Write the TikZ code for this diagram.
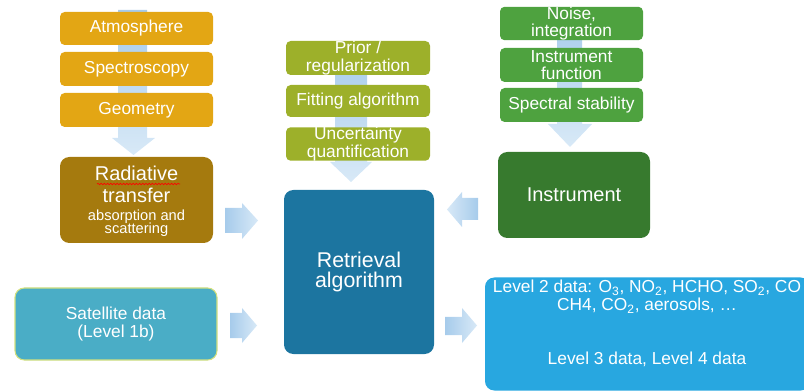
\documentclass[tikz,border=0pt]{standalone}
\usepackage{fontspec}
\setmainfont{Liberation Sans}
\usetikzlibrary{decorations.pathmorphing}
\definecolor{orangebox}{HTML}{E3A614}
\definecolor{radbox}{HTML}{A57A0E}
\definecolor{olivebox}{HTML}{9DB02A}
\definecolor{greenbox}{HTML}{4EA23F}
\definecolor{instbox}{HTML}{377A2E}
\definecolor{retrbox}{HTML}{1C75A0}
\definecolor{satbox}{HTML}{4AADC6}
\definecolor{satedge}{HTML}{D4E07E}
\definecolor{lvlbox}{HTML}{28A7E0}
\definecolor{arrdark}{HTML}{A6CBEB}
\definecolor{arrlight}{HTML}{D8E9F7}
\newcommand{\mytight}{\lineskiplimit=-50pt\relax}
\tikzset{
  box/.style 2 args={rounded corners=3.5pt, minimum width=#1*0.75pt, minimum height=#2*0.75pt,
    inner sep=0pt, align=center, text=white, font=\fontsize{13}{13}\selectfont\mytight},
  bigbox/.style 2 args={box={#1}{#2}, rounded corners=7pt},
  plain/.style={inner sep=0pt, align=center, text=white},
  harrow/.style={left color=arrdark, right color=arrlight},
  larrow/.style={left color=arrlight, right color=arrdark},
  varrow/.style={top color=arrdark, bottom color=arrlight}}
\begin{document}
\begin{tikzpicture}[x=0.75pt,y=-0.75pt]
\useasboundingbox (0,0) rectangle (804,392);

% vertical arrows behind the stacks
\shade[varrow] (118,10) -- (147,10) -- (147,138) -- (155,138) -- (133.5,155) -- (112,138) -- (118,138) -- cycle;
\shade[varrow] (335,45) -- (367,45) -- (367,162) -- (372,162) -- (351,182) -- (330,162) -- (335,162) -- cycle;
\shade[varrow] (557,12) -- (582,12) -- (582,124) -- (592,124) -- (570,147) -- (548,124) -- (557,124) -- cycle;

% left stack
\node[box={153}{33}, fill=orangebox] (atm) at (136.5,28.5) {Atmosphere};
\node[box={153}{34}, fill=orangebox] (spec) at (136.5,69) {Spectroscopy};
\node[box={153}{34}, fill=orangebox] (geom) at (136.5,110) {Geometry};
\node[bigbox={153}{86}, fill=radbox] (rad) at (136.5,200) {};
\node[plain, anchor=north, font=\fontsize{15}{16.5}\selectfont\mytight] (radt) at (136.5,165.5) {Radiative\\transfer};
\node[plain, anchor=north, font=\fontsize{11}{10}\selectfont\mytight] (rads) at (136.5,209.5) {absorption and\\scattering};
\draw[red, line width=0.5pt, decorate, decoration={snake, amplitude=0.5pt, segment length=2.4pt}] (97,184) -- (180,184);

% middle stack
\node[box={144}{34}, fill=olivebox] (prior) at (358,58) {Prior /\\regularization};
\node[box={144}{32}, fill=olivebox] (fit) at (358,101) {Fitting algorithm};
\node[box={144}{33}, fill=olivebox] (unc) at (358,144) {Uncertainty\\quantification};
\node[bigbox={150}{164}, fill=retrbox, font=\fontsize{16}{15}\selectfont\mytight] (retr) at (359,272) {Retrieval\\algorithm};

% right stack
\node[box={143}{33}, fill=greenbox] (noise) at (571.5,23.5) {Noise,\\integration};
\node[box={143}{34}, fill=greenbox] (instf) at (571.5,65) {Instrument\\function};
\node[box={143}{34}, fill=greenbox] (spst) at (571.5,105) {Spectral stability};
\node[bigbox={152}{86}, fill=instbox, font=\fontsize{15}{15}\selectfont] (instr) at (574,195) {Instrument};

% satellite data
\node[bigbox={202}{72}, fill=satbox, draw=satedge, line width=0.8pt, font=\fontsize{13}{13.5}\selectfont\mytight] (sat) at (116,324) {Satellite data\\(Level 1b)};

% level 2 data
\node[bigbox={325}{113}, fill=lvlbox] (lvl) at (647.5,334) {};
\node[plain, anchor=north, font=\fontsize{13}{14}\selectfont\mytight] (lvlt) at (647,279.5)
  {Level 2 data: O\textsubscript{3}, NO\textsubscript{2}, HCHO, SO\textsubscript{2}, CO\\
   CH4, CO\textsubscript{2}, aerosols, …\\[26pt]
   Level 3 data, Level 4 data};

% horizontal block arrows
\shade[harrow] (225,208) -- (242,208) -- (242,203) -- (258,220.5) -- (242,239) -- (242,233) -- (225,233) -- cycle;
\shade[harrow] (230,313) -- (242,313) -- (242,308) -- (257,325.5) -- (242,343) -- (242,338) -- (230,338) -- cycle;
\shade[larrow] (478,198) -- (462,198) -- (462,192) -- (447,209.5) -- (462,227) -- (462,220) -- (478,220) -- cycle;
\shade[harrow] (445,317) -- (462,317) -- (462,308) -- (477,325.5) -- (462,343) -- (462,335) -- (445,335) -- cycle;
\end{tikzpicture}
\end{document}
